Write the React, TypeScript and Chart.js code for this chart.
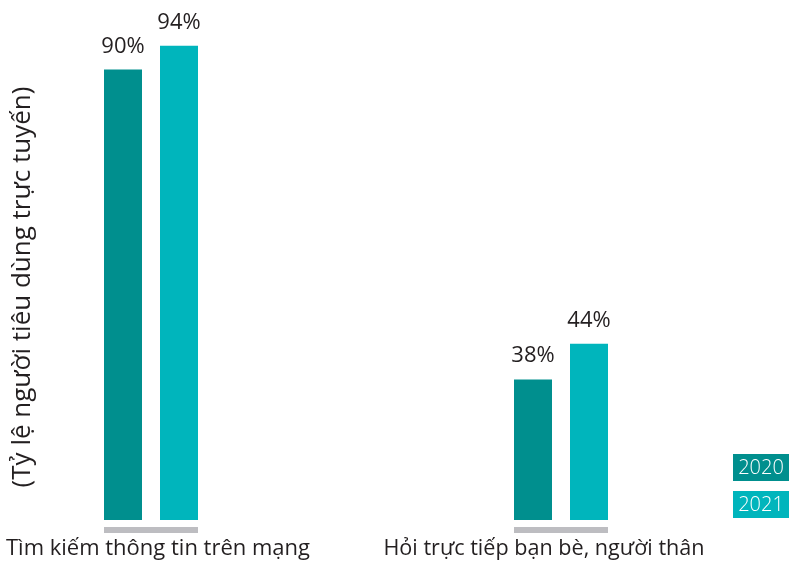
import React, { useEffect, useRef } from "react";
import { Chart, registerables } from "chart.js";

Chart.register(...registerables);

const categories = ["Tìm kiếm thông tin trên mạng", "Hỏi trực tiếp bạn bè, người thân"];
const seriesLabels = ["2020", "2021"];
const values2020 = [90, 38];
const values2021 = [94, 44];
const yAxisTitle = "(Tỷ lệ người tiêu dùng trực tuyến)";
const Y_MIN = 14.4;
const Y_MAX = 100;

const COLORS = ["#008F8E", "#00B5BC"];
const GRAY = "#BDBDC1";
const TEXT = "#231F20";
const FONT = "'Open Sans', 'Noto Sans', sans-serif";
const LABEL_SHIFT = [7, -17];

const overlay = {
  id: "overlay",
  afterDatasetsDraw(chart: any) {
    const ctx = chart.ctx;
    const m0 = chart.getDatasetMeta(0);
    const m1 = chart.getDatasetMeta(1);
    const bottom = chart.chartArea.bottom;
    ctx.save();
    // group underlines + category labels
    categories.forEach((cat, i) => {
      const b0 = m0.data[i];
      const b1 = m1.data[i];
      const left = b0.x - b0.width / 2;
      const right = b1.x + b1.width / 2;
      ctx.fillStyle = GRAY;
      ctx.fillRect(left, bottom + 7, right - left, 6);
      ctx.fillStyle = TEXT;
      ctx.font = `400 ${i === 0 ? 22 : 21.6}px ${FONT}`;
      ctx.textAlign = "center";
      ctx.textBaseline = "alphabetic";
      ctx.fillText(cat, (left + right) / 2 + LABEL_SHIFT[i], bottom + 35);
    });
    // value labels
    [m0, m1].forEach((meta: any, d: number) => {
      const vals = chart.data.datasets[d].data;
      meta.data.forEach((bar: any, i: number) => {
        ctx.fillStyle = TEXT;
        ctx.font = `400 22px ${FONT}`;
        ctx.textAlign = "center";
        ctx.textBaseline = "alphabetic";
        ctx.fillText(`${vals[i]}%`, bar.x, bar.y - 17);
      });
    });
    // y axis title
    ctx.save();
    ctx.translate(30, (chart.chartArea.top + chart.chartArea.bottom) / 2 + 22);
    ctx.rotate(-Math.PI / 2);
    ctx.fillStyle = TEXT;
    ctx.font = `400 26px ${FONT}`;
    ctx.textAlign = "center";
    ctx.textBaseline = "alphabetic";
    ctx.fillText(yAxisTitle, 0, 0);
    ctx.restore();
    // legend
    const lx = 733;
    const lw = chart.width - lx;
    seriesLabels.forEach((lab, i) => {
      const ly = 454 + i * 37;
      ctx.fillStyle = COLORS[i];
      ctx.fillRect(lx, ly, lw, 27);
      ctx.fillStyle = "#FFFFFF";
      ctx.font = `300 20px ${FONT}`;
      ctx.textAlign = "center";
      ctx.textBaseline = "middle";
      ctx.fillText(lab, lx + lw / 2, ly + 14);
    });
    ctx.restore();
  },
};

export default function App() {
  const ref = useRef<HTMLCanvasElement | null>(null);
  useEffect(() => {
    if (!ref.current) return;
    const chart = new Chart(ref.current, {
      type: "bar",
      data: {
        labels: categories,
        datasets: [
          { label: seriesLabels[0], data: values2020, backgroundColor: COLORS[0], base: Y_MIN, clip: false as any },
          { label: seriesLabels[1], data: values2021, backgroundColor: COLORS[1], base: Y_MIN, clip: false as any },
        ],
      },
      options: {
        responsive: false,
        animation: false,
        categoryPercentage: 112 / 410,
        barPercentage: 38 / 56,
        layout: { padding: { left: 151, right: 228, top: 10, bottom: 42 } },
        plugins: { legend: { display: false }, tooltip: { enabled: false } },
        scales: {
          x: { display: false, offset: false, grid: { display: false } },
          y: { display: false, min: Y_MIN, max: Y_MAX, grid: { display: false } },
        },
      } as any,
      plugins: [overlay],
    });
    return () => chart.destroy();
  }, []);
  return (
    <div style={{ position: "fixed", left: 0, top: 0, width: 789, height: 562, background: "#fff" }}>
      <canvas ref={ref} width={789} height={562} style={{ display: "block" }} />
    </div>
  );
}
